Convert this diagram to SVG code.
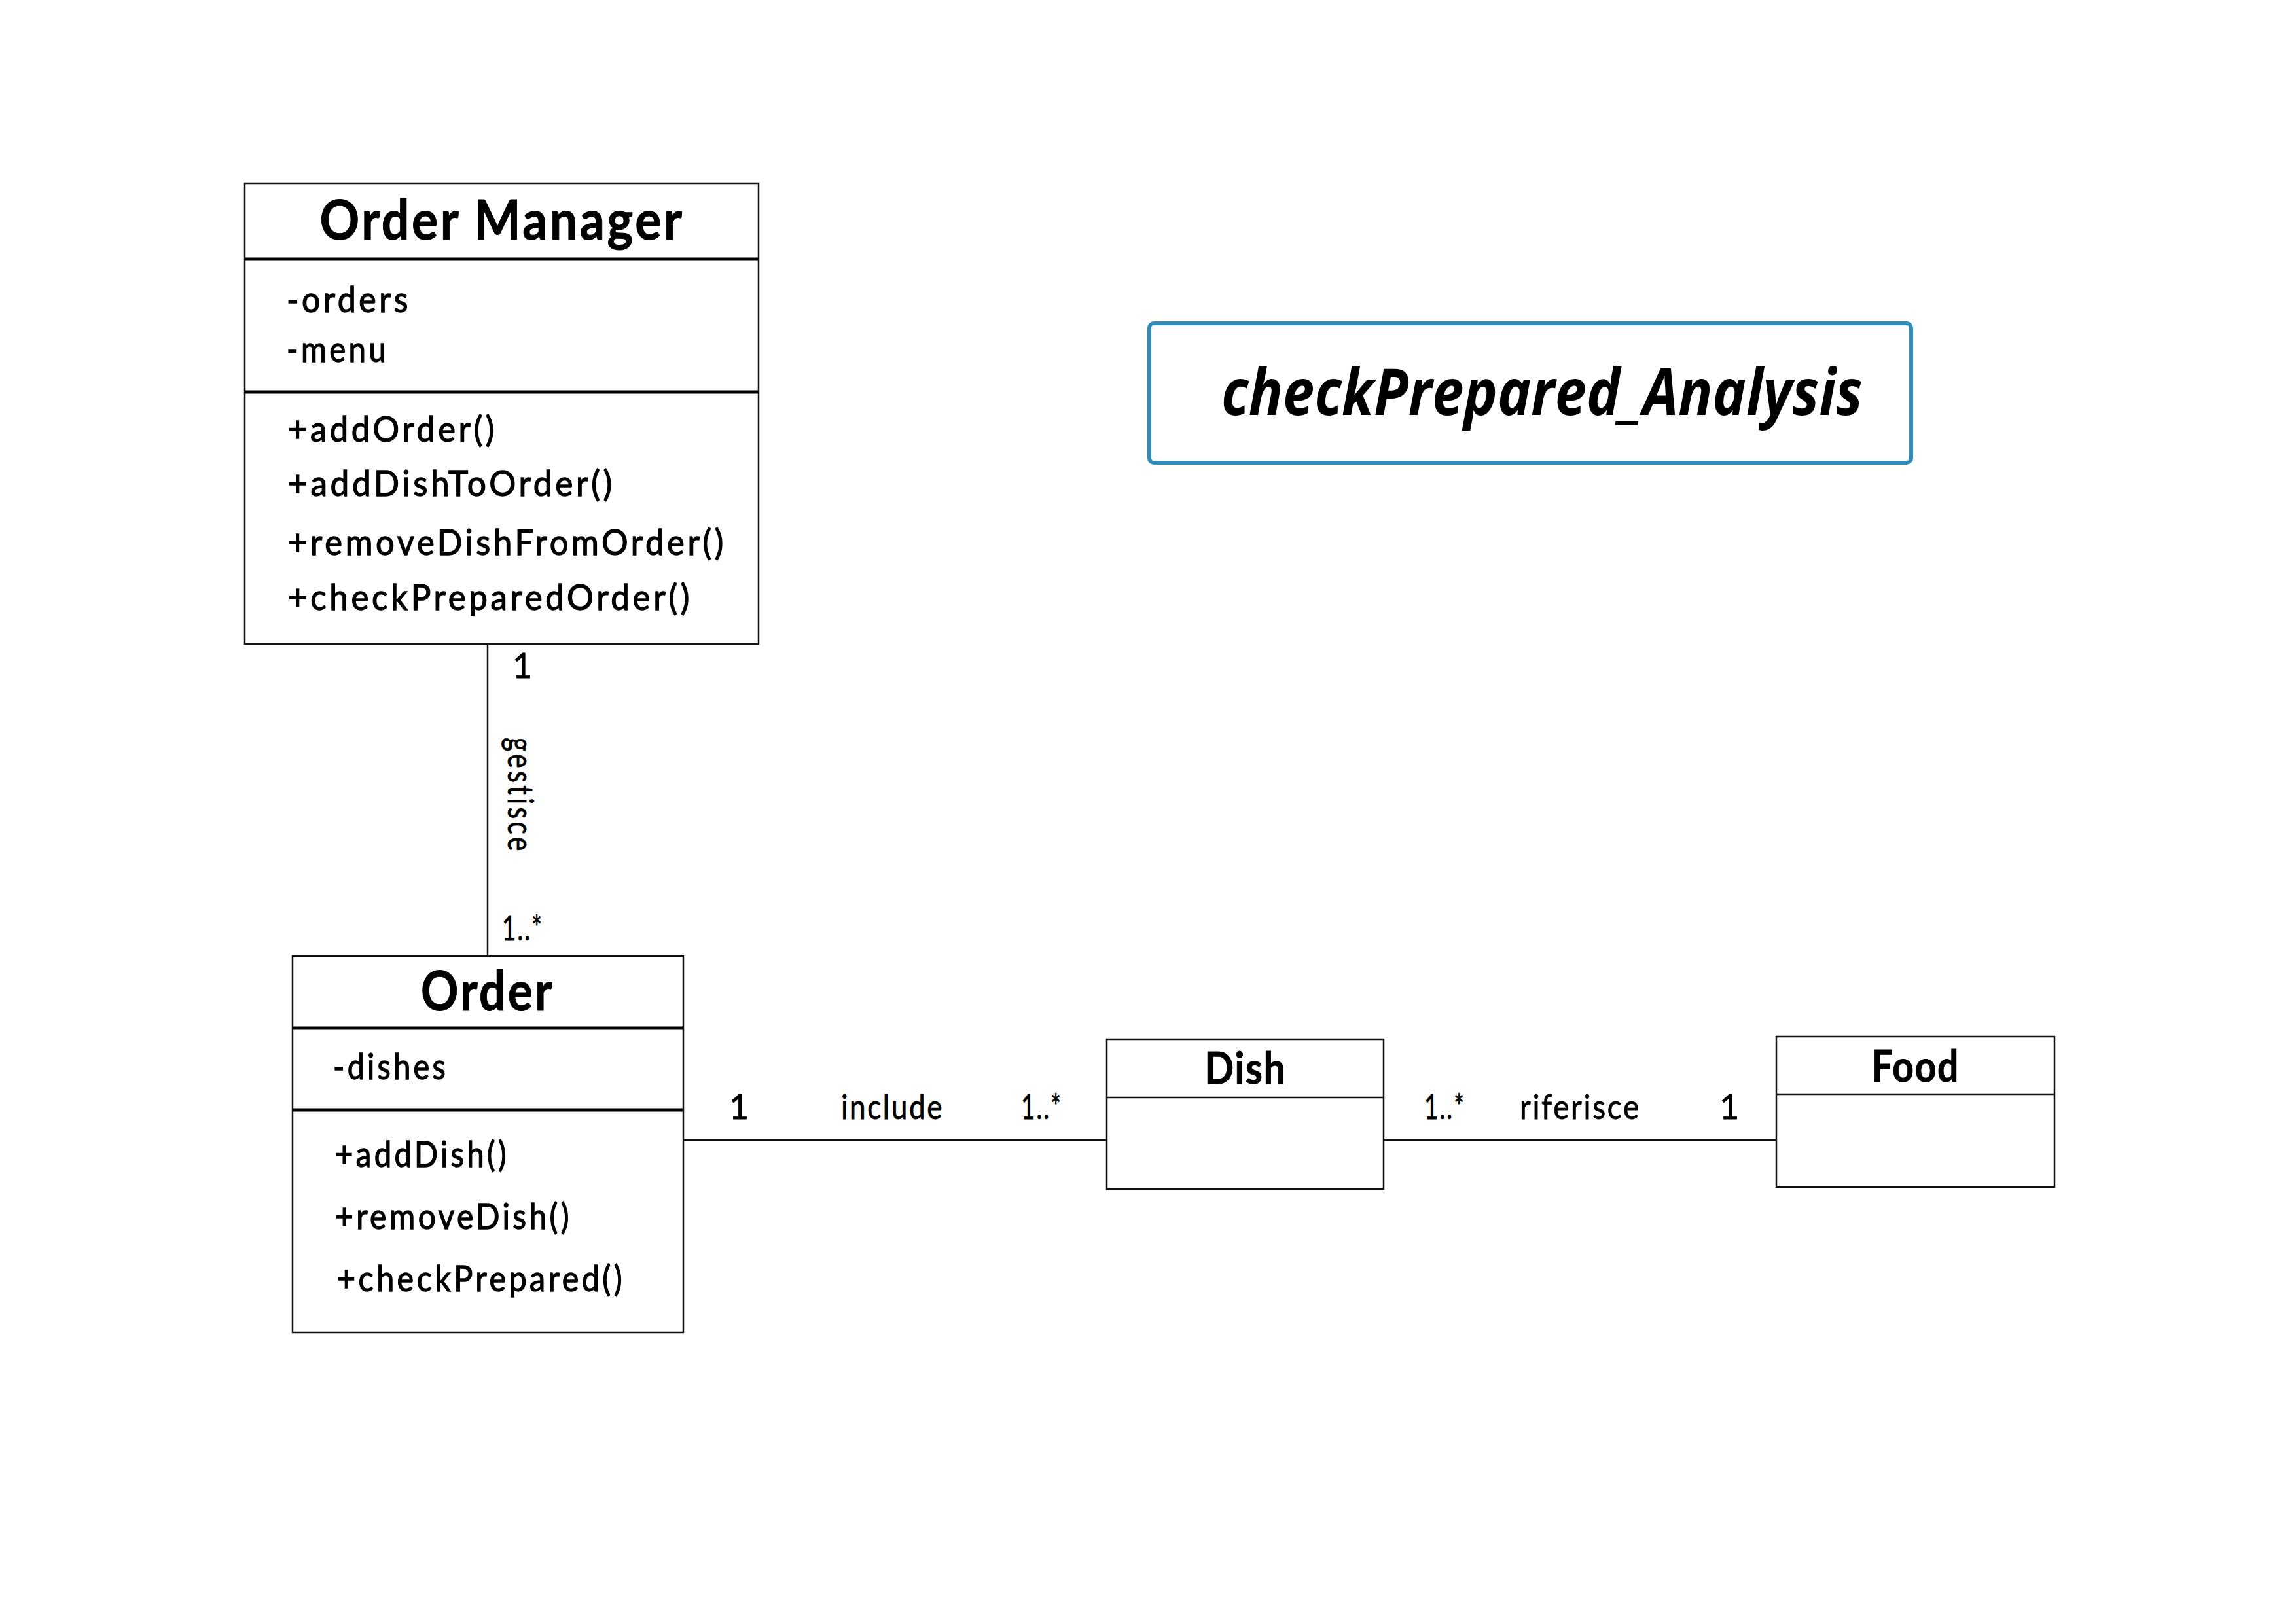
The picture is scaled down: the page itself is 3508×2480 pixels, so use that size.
<svg xmlns="http://www.w3.org/2000/svg" width="3508" height="2480" viewBox="0 0 3508 2480">
<style>
.box{fill:#fff;stroke:#111;stroke-width:2.5}
.thin{stroke:#111;stroke-width:2.5}
.thick{stroke:#000;stroke-width:5}
.conn{stroke:#111;stroke-width:2.5;fill:none}
.title{font-family:Lato,"Liberation Sans",sans-serif;font-weight:bold;font-size:84px;letter-spacing:4px;fill:#000;stroke:#000;stroke-width:1;text-anchor:middle}
.small-title{font-family:Lato,"Liberation Sans",sans-serif;font-weight:bold;font-size:66px;letter-spacing:2px;fill:#000;stroke:#000;stroke-width:1;text-anchor:middle}
.member{font-family:Lato,"Liberation Sans",sans-serif;font-size:55px;letter-spacing:5px;fill:#000;stroke:#000;stroke-width:1.3}
.label{font-family:Lato,"Liberation Sans",sans-serif;font-size:52px;letter-spacing:3px;fill:#000;stroke:#000;stroke-width:0.8}
.heading{font-family:"Open Sans","Noto Sans",sans-serif;font-weight:bold;font-style:italic;font-size:98px;fill:#000;text-anchor:middle}
</style>
<rect x="0" y="0" width="3508" height="2480" fill="#fff"/>

<g id="connectors">
  <line class="conn" x1="745" y1="984" x2="745" y2="1461"/>
  <line class="conn" x1="1044" y1="1742" x2="1691" y2="1742"/>
  <line class="conn" x1="2114" y1="1742" x2="2714" y2="1742"/>
  <text class="label" x="783" y="1036">1</text>
  <text class="label" transform="translate(776,1127) rotate(90)" style="font-size:54px;letter-spacing:6px" textLength="178" lengthAdjust="spacingAndGlyphs">gestisce</text>
  <text class="label" x="767" y="1437" textLength="63" lengthAdjust="spacingAndGlyphs">1..*</text>
  <text class="label" x="1114" y="1710">1</text>
  <text class="label" x="1285" y="1710" textLength="157" lengthAdjust="spacingAndGlyphs">include</text>
  <text class="label" x="1560" y="1710" textLength="63" lengthAdjust="spacingAndGlyphs">1..*</text>
  <text class="label" x="2176" y="1710" textLength="63" lengthAdjust="spacingAndGlyphs">1..*</text>
  <text class="label" x="2322" y="1710" textLength="185" lengthAdjust="spacingAndGlyphs">riferisce</text>
  <text class="label" x="2627" y="1710">1</text>
</g>

<g id="title-box">
  <rect x="1756" y="494" width="1164" height="213" rx="7" ry="7" fill="#fff" stroke="#2e8bba" stroke-width="6"/>
  <text class="heading" x="2356" y="634" textLength="980" lengthAdjust="spacingAndGlyphs">checkPrepared_Analysis</text>
</g>

<g id="order-manager">
  <rect class="box" x="374" y="280" width="785" height="704"/>
  <line class="thick" x1="374" y1="396" x2="1159" y2="396"/>
  <line class="thick" x1="374" y1="599" x2="1159" y2="599"/>
  <text class="title" x="767" y="366" textLength="557" lengthAdjust="spacingAndGlyphs">Order Manager</text>
  <text class="member" x="438" y="477" textLength="190" lengthAdjust="spacingAndGlyphs">-orders</text>
  <text class="member" x="438" y="553" textLength="156" lengthAdjust="spacingAndGlyphs">-menu</text>
  <text class="member" x="440" y="675" textLength="320" lengthAdjust="spacingAndGlyphs">+addOrder()</text>
  <text class="member" x="440" y="758" textLength="500" lengthAdjust="spacingAndGlyphs">+addDishToOrder()</text>
  <text class="member" x="440" y="848" textLength="670" lengthAdjust="spacingAndGlyphs">+removeDishFromOrder()</text>
  <text class="member" x="440" y="932" textLength="618" lengthAdjust="spacingAndGlyphs">+checkPreparedOrder()</text>
</g>

<g id="order">
  <rect class="box" x="447" y="1461" width="597" height="575"/>
  <line class="thick" x1="447" y1="1571" x2="1044" y2="1571"/>
  <line class="thick" x1="447" y1="1696" x2="1044" y2="1696"/>
  <text class="title" x="745" y="1544" textLength="204" lengthAdjust="spacingAndGlyphs">Order</text>
  <text class="member" x="509" y="1649" textLength="176" lengthAdjust="spacingAndGlyphs">-dishes</text>
  <text class="member" x="512" y="1783" textLength="266" lengthAdjust="spacingAndGlyphs">+addDish()</text>
  <text class="member" x="512" y="1878" textLength="362" lengthAdjust="spacingAndGlyphs">+removeDish()</text>
  <text class="member" x="515" y="1973" textLength="440" lengthAdjust="spacingAndGlyphs">+checkPrepared()</text>
</g>

<g id="dish">
  <rect class="box" x="1691" y="1588" width="423" height="229"/>
  <line class="thin" x1="1691" y1="1677" x2="2114" y2="1677"/>
  <text class="small-title" x="1903" y="1656" textLength="125" lengthAdjust="spacingAndGlyphs">Dish</text>
</g>

<g id="food">
  <rect class="box" x="2714" y="1584" width="425" height="230"/>
  <line class="thin" x1="2714" y1="1672" x2="3139" y2="1672"/>
  <text class="small-title" x="2927" y="1653" textLength="134" lengthAdjust="spacingAndGlyphs">Food</text>
</g>
</svg>
